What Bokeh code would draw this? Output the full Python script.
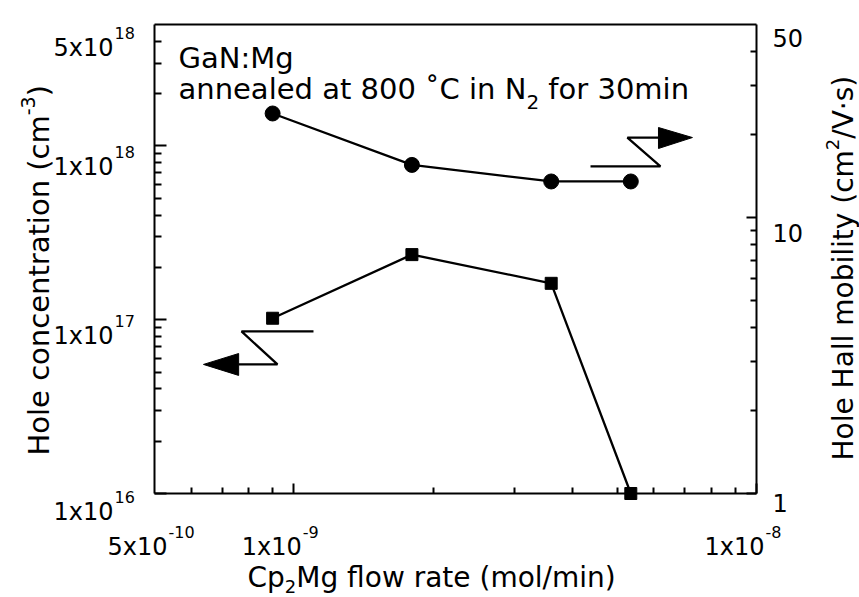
import math
from bokeh.plotting import figure
from bokeh.models import LogAxis, FixedTicker, Range1d, LogScale, Label
from bokeh.embed import file_html
from bokeh.resources import INLINE

# ---------------- data ----------------
flow_rate = [9.0e-10, 1.8e-9, 3.6e-9, 5.35e-9]          # mol/min
hole_conc = [1.02e17, 2.37e17, 1.62e17, 1.0e16]          # cm^-3 (left axis)
hall_mobility = [23.8, 15.5, 13.5, 13.5]                 # cm^2/V s (right axis)

x_ticks = [5e-10, 1e-9, 1e-8]
x_tick_main = ["5x10", "1x10", "1x10"]
x_tick_sup = ["-10", "-9", "-8"]

yl_ticks = [1e16, 1e17, 1e18, 5e18]
yl_tick_main = ["1x10", "1x10", "1x10", "5x10"]
yl_tick_sup = ["16", "17", "18", "18"]

yr_ticks = [1, 10, 50]
yr_tick_labels = ["1", "10", "50"]

# decorative arrows (data units of left axis)
left_arrow_x = [1.103e-9, 7.71e-10, 9.22e-10, 7.6e-10]
left_arrow_y = [8.56e16, 8.56e16, 5.53e16, 5.53e16]
left_head_x = [6.38e-10, 7.6e-10, 7.6e-10]
left_head_y = [5.53e16, 6.39e16, 4.78e16]
right_arrow_x = [4.378e-9, 6.20e-9, 5.26e-9, 6.14e-9]
right_arrow_y = [7.62e17, 7.62e17, 1.118e18, 1.118e18]
right_head_x = [7.27e-9, 6.14e-9, 6.14e-9]
right_head_y = [1.118e18, 1.277e18, 9.67e17]

# ---------------- layout ----------------
FONT = "DejaVu Sans"
W, H = 859, 597
M = 0                                     # Bokeh's page template has no body margin
FL, FR, FT, FB = 154, 756, 24, 493        # plot box in page px
X0, X1 = 5e-10, 1e-8
YL0, YL1 = 1e16, 5e18
YR0, YR1 = 1.0, 50.0

# the drawing frame covers the whole canvas; axes are fixed at the plot box edges
kx = math.log10(X1 / X0) / (FR - FL)
kyl = math.log10(YL1 / YL0) / (FB - FT)
kyr = math.log10(YR1 / YR0) / (FB - FT)
x_lo = 10 ** (math.log10(X0) - (FL - M) * kx)
x_hi = 10 ** (math.log10(X1) + (M + W - FR) * kx)
yl_lo = 10 ** (math.log10(YL0) - (M + H - FB) * kyl)
yl_hi = 10 ** (math.log10(YL1) + (FT - M) * kyl)
yr_lo = 10 ** (math.log10(YR0) - (M + H - FB) * kyr)
yr_hi = 10 ** (math.log10(YR1) + (FT - M) * kyr)

p = figure(width=W, height=H, x_axis_type="log", y_axis_type="log",
           x_range=Range1d(x_lo, x_hi), y_range=Range1d(yl_lo, yl_hi),
           output_backend="svg", toolbar_location=None,
           min_border_left=0, min_border_right=0, min_border_top=0, min_border_bottom=0)
p.extra_y_ranges = {"mob": Range1d(yr_lo, yr_hi)}
p.extra_y_scales = {"mob": LogScale()}
p.outline_line_color = None
p.grid.visible = False
p.background_fill_color = "white"
p.border_fill_color = "white"


def style_axis(ax, tin, mtin):
    ax.axis_line_width = 2
    ax.axis_line_color = "black"
    ax.major_tick_in = tin
    ax.major_tick_out = 0
    ax.minor_tick_in = mtin
    ax.minor_tick_out = 0
    ax.major_tick_line_width = 2
    ax.minor_tick_line_width = 2
    ax.major_label_text_font_size = "1px"
    ax.major_label_text_alpha = 0
    ax.major_label_standoff = 0


xax = p.xaxis[0]
xax.ticker = FixedTicker(ticks=[1e-9, 1e-8],
                         minor_ticks=[6e-10, 7e-10, 8e-10, 9e-10] + [k * 1e-9 for k in range(2, 10)])
style_axis(xax, 10, 6)
xax.fixed_location = YL0
xax.bounds = (X0, X1)

yax = p.yaxis[0]
yax.ticker = FixedTicker(ticks=[1e16, 1e17, 1e18],
                         minor_ticks=[k * 1e16 for k in range(2, 10)] + [k * 1e17 for k in range(2, 10)]
                         + [k * 1e18 for k in range(2, 5)])
style_axis(yax, 12, 7)
yax.fixed_location = X0
yax.bounds = (YL0, YL1)

rax = LogAxis(y_range_name="mob",
              ticker=FixedTicker(ticks=[1, 10], minor_ticks=list(range(2, 10)) + [20, 30, 40]))
style_axis(rax, 10, 6)
rax.fixed_location = X1
rax.bounds = (YR0, YR1)
p.add_layout(rax, "right")

tax = LogAxis(ticker=FixedTicker(ticks=[1e-8], minor_ticks=[]))
style_axis(tax, 0, 0)
tax.fixed_location = YL1
tax.bounds = (X0, X1)
p.add_layout(tax, "above")

# ---------------- data marks ----------------
p.line(flow_rate, hall_mobility, y_range_name="mob", line_width=2.3, line_color="black")
p.scatter(flow_rate, hall_mobility, y_range_name="mob", marker="circle", size=15,
          fill_color="black", line_color="black")
p.line(flow_rate, hole_conc, line_width=2.3, line_color="black")
p.scatter(flow_rate, hole_conc, marker="square", size=12, fill_color="black", line_color="black")

# arrows
p.line(left_arrow_x, left_arrow_y, line_width=2.3, line_color="black")
p.patch(left_head_x, left_head_y, fill_color="black", line_color="black")
p.line(right_arrow_x, right_arrow_y, line_width=2.3, line_color="black")
p.patch(right_head_x, right_head_y, fill_color="black", line_color="black")

# ---------------- text ----------------
ADV = {' ': 651, '(': 799, ')': 799, '-': 739, '/': 690, ':': 690, '·': 651, '˚': 1024,
       'C': 1430, 'G': 1577, 'H': 1540, 'M': 1767, 'N': 1532, 'V': 1401,
       'a': 1255, 'b': 1300, 'c': 1126, 'd': 1300, 'e': 1260, 'f': 721, 'g': 1300, 'i': 569,
       'l': 569, 'm': 1995, 'n': 1298, 'o': 1253, 'p': 1300, 'r': 842, 's': 1067, 't': 803,
       'w': 1675, 'y': 1212, 'x': 1212}
for d in "0123456789":
    ADV[d] = 1303


def tw(s, size):
    return sum(ADV.get(c, 1200) for c in s) / 2048.0 * size


def page_label(text, px, py, size, align="left", angle=0.0):
    p.add_layout(Label(x=X0, y=YL0, x_offset=px - FL, y_offset=FB - py, text=text,
                       text_font=FONT, text_font_size=f"{size}px", text_align=align,
                       text_baseline="alphabetic", text_color="black", angle=angle))


TICK_MAIN, TICK_SUP = 24, 16

# tick labels: left axis
yl_base = [18, 16, 21, 23]
for t, m, s, b in zip(yl_ticks, yl_tick_main, yl_tick_sup, yl_base):
    p.add_layout(Label(x=X0, y=t, x_offset=113 - FL, y_offset=-b, text=m, text_font=FONT,
                       text_font_size=f"{TICK_MAIN}px", text_align="right",
                       text_baseline="alphabetic", text_color="black"))
    p.add_layout(Label(x=X0, y=t, x_offset=114 - FL, y_offset=-b + 15, text=s, text_font=FONT,
                       text_font_size=f"{TICK_SUP}px", text_align="left",
                       text_baseline="alphabetic", text_color="black"))

# tick labels: bottom axis
for t, m, s in zip(x_ticks, x_tick_main, x_tick_sup):
    anch = tw(s, TICK_SUP) / 2.0
    p.add_layout(Label(x=t, y=YL0, x_offset=anch, y_offset=-(546 - FB), text=m, text_font=FONT,
                       text_font_size=f"{TICK_MAIN}px", text_align="right",
                       text_baseline="alphabetic", text_color="black"))
    p.add_layout(Label(x=t, y=YL0, x_offset=anch + 1, y_offset=-(546 - FB) + 15, text=s,
                       text_font=FONT, text_font_size=f"{TICK_SUP}px", text_align="left",
                       text_baseline="alphabetic", text_color="black"))

# tick labels: right axis
yr_base = [9, 16, 13]
for t, lab, b in zip(yr_ticks, yr_tick_labels, yr_base):
    p.add_layout(Label(x=X1, y=t, y_range_name="mob", x_offset=16, y_offset=-b, text=lab,
                       text_font=FONT, text_font_size=f"{TICK_MAIN}px", text_align="left",
                       text_baseline="alphabetic", text_color="black"))

# inset text
TS = 29
page_label("GaN:Mg", 178, 57, TS)
part1 = "annealed at 800 ˚C in N"
page_label(part1, 178, 88, TS)
xs = 178 + tw(part1, TS)
page_label("2", xs, 101, 20)
page_label("for 30min", xs + tw("2", 20) + tw(" ", TS), 88, TS)

# x axis title
XS = 28
page_label("Cp", 247, 577, XS)
xs = 247 + tw("Cp", XS)
page_label("2", xs, 586, 18)
page_label("Mg flow rate (mol/min)", xs + tw("2", 18), 577, XS)

# left axis title (rotated)
ang = math.pi / 2
l1 = "Hole concentration (cm"
page_label(l1, 38, 455, 29, angle=ang)
y2 = 455 - tw(l1, 29)
page_label("-3", 27, y2, 19, angle=ang)
page_label(")", 38, y2 - tw("-3", 19), 29, angle=ang)

# right axis title (rotated)
RS = 28
r1 = "Hole Hall mobility (cm"
page_label(r1, 843, 460, RS, angle=ang)
y2 = 460 - tw(r1, RS)
page_label("2", 832, y2, 18, angle=ang)
page_label("/V·s)", 843, y2 - tw("2", 18), RS, angle=ang)

open("out.html", "w").write(file_html(p, INLINE))
